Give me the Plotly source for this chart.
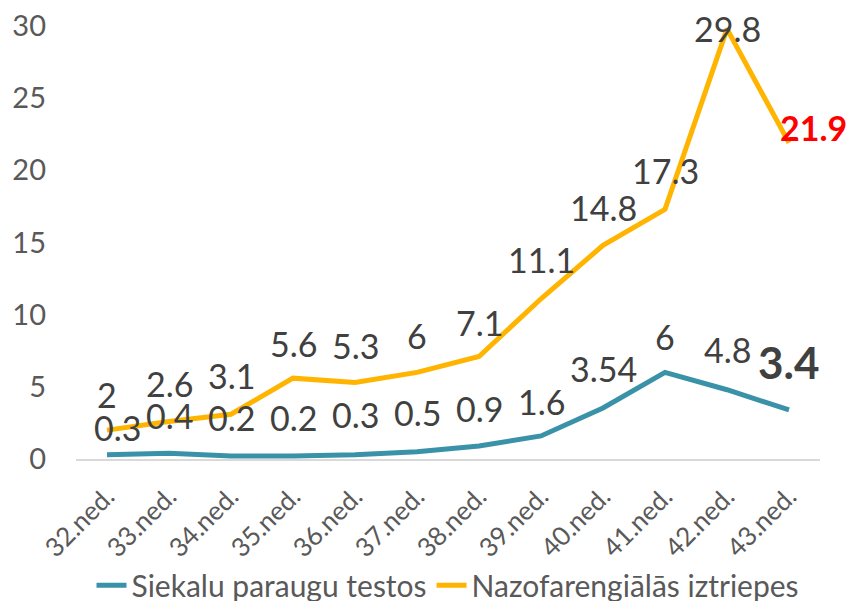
import plotly.graph_objects as go

categories = ["32.ned.", "33.ned.", "34.ned.", "35.ned.", "36.ned.", "37.ned.",
              "38.ned.", "39.ned.", "40.ned.", "41.ned.", "42.ned.", "43.ned."]
siekalu = [0.3, 0.4, 0.2, 0.2, 0.3, 0.5, 0.9, 1.6, 3.54, 6, 4.8, 3.4]
nazo = [2, 2.6, 3.1, 5.6, 5.3, 6, 7.1, 11.1, 14.8, 17.3, 29.8, 21.9]
siekalu_labels = ["0.3", "0.4", "0.2", "0.2", "0.3", "0.5", "0.9", "1.6", "3.54", "6", "4.8", "3.4"]
nazo_labels = ["2", "2.6", "3.1", "5.6", "5.3", "6", "7.1", "11.1", "14.8", "17.3", "29.8", "21.9"]
series_names = ["Siekalu paraugu testos", "Nazofarengiālās iztriepes"]
y_ticks = [0, 5, 10, 15, 20, 25, 30]

BLUE = "#3A92A8"
ORANGE = "#FFB400"
LABEL = "#404040"
TICK = "#595959"
FONT = "Lato"

# label styling (pixel offsets from each point)
blue_dx = [10, 0, 0, 0, 0, 0, 0, 0, 0, 0, 0, 0]
blue_dy = [27, 38, 39, 39, 40, 39, 38, 34, 39, 36, 40, 48]
orange_dx = [0, 0, 0, 0, 0, 0, 0, 0, 0, 0, 0, 24]
orange_dy = [36, 38, 39, 35, 37, 37, 34, 39, 38, 39, 0, 15]

fig = go.Figure()
fig.add_trace(go.Scatter(x=categories, y=siekalu, mode="lines", name=series_names[0],
                         line=dict(color=BLUE, width=5)))
fig.add_trace(go.Scatter(x=categories, y=nazo, mode="lines", name=series_names[1],
                         line=dict(color=ORANGE, width=5)))

annotations = []
for i, (c, v, t) in enumerate(zip(categories, nazo, nazo_labels)):
    last = i == len(categories) - 1
    annotations.append(dict(
        x=c, y=v, text=f"<b>{t}</b>" if last else t, showarrow=False,
        xshift=orange_dx[i], yshift=orange_dy[i], yanchor="middle",
        font=dict(family=FONT, size=34, color="#FF0000" if last else LABEL)))
for i, (c, v, t) in enumerate(zip(categories, siekalu, siekalu_labels)):
    last = i == len(categories) - 1
    annotations.append(dict(
        x=c, y=v, text=f"<b>{t}</b>" if last else t, showarrow=False,
        xshift=blue_dx[i], yshift=blue_dy[i], yanchor="middle",
        font=dict(family=FONT, size=44 if last else 34, color=LABEL)))

fig.update_layout(
    width=851, height=601,
    margin=dict(l=76, r=31, t=26, b=142),
    paper_bgcolor="white", plot_bgcolor="white",
    font=dict(family=FONT, color=TICK),
    annotations=annotations,
    showlegend=True,
    legend=dict(orientation="h", x=0.5, xanchor="center", yref="container",
                y=0.026, yanchor="middle",
                font=dict(family=FONT, size=30, color=TICK),
                bgcolor="rgba(0,0,0,0)"),
    xaxis=dict(type="category", range=[-0.5, 11.5], showgrid=False, zeroline=False,
               showline=True, linecolor="#D9D9D9", linewidth=2, ticks="",
               automargin=False, ticklabelstandoff=10,
               tickangle=-45, tickfont=dict(family=FONT, size=26, color=TICK)),
    yaxis=dict(range=[0, 30], tickvals=y_ticks, showgrid=False, zeroline=False,
               showline=False, ticks="", ticklabelstandoff=29, automargin=False,
               tickfont=dict(family=FONT, size=29, color=TICK)),
)

fig.write_html("out.html", config={"displayModeBar": False},
               post_script="document.body.style.margin='0';")
